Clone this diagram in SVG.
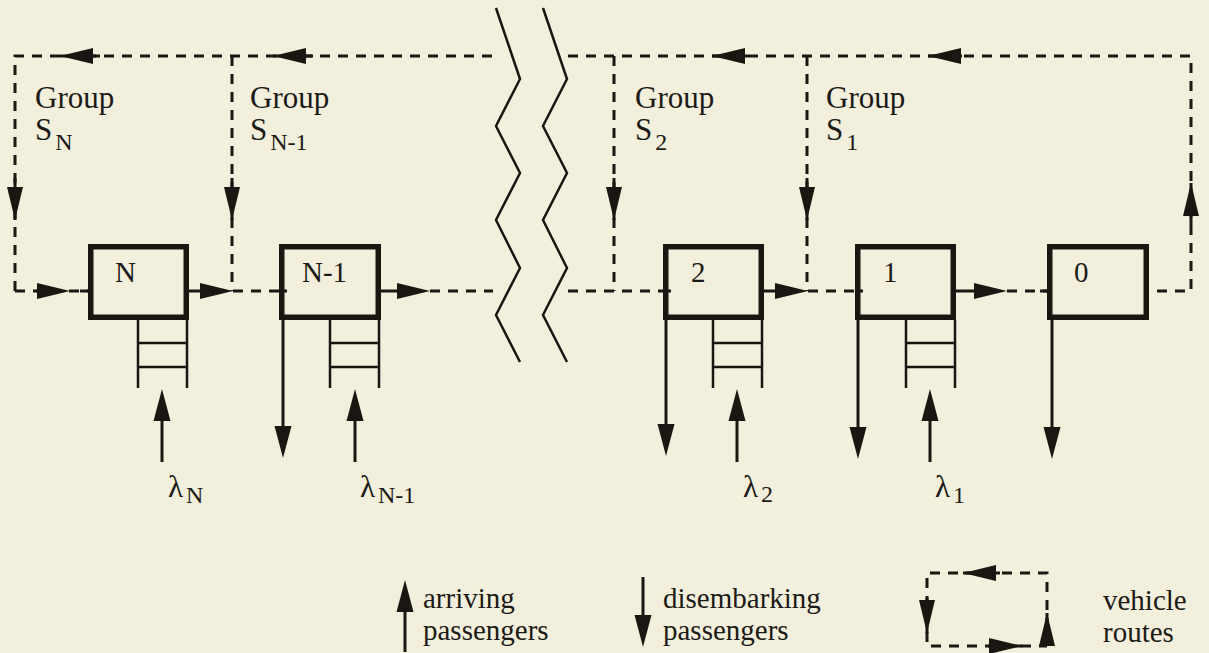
<svg xmlns="http://www.w3.org/2000/svg" xmlns:xlink="http://www.w3.org/1999/xlink" width="1209" height="653" viewBox="0 0 1209 653">
<style>
.bg{fill:#f2efdc}
.dash{fill:none;stroke:#1a1612;stroke-width:3;stroke-dasharray:10 8}
.solid{fill:none;stroke:#1a1612;stroke-width:3}
.thin{fill:none;stroke:#1a1612;stroke-width:2.5}
.box{fill:none;stroke:#1a1612;stroke-width:5.5}
.head{fill:#1a1612}
.t{font-family:"Liberation Serif","Times New Roman",serif;fill:#1c1a16;font-size:31px}
.lbl{font-family:"Liberation Serif","Times New Roman",serif;fill:#1c1a16;font-size:29px}
.sub{font-size:24px}
</style>
<defs>
<path id="ah" d="M0,0 L-33,-8 L-33,8 Z"/>
<path id="ahL" d="M0,0 L-32,-8.5 L-32,8.5 Z"/>
<g id="queue">
<path class="thin" d="M0,0 V68 M49,0 V68 M0,23 H49 M0,47 H49"/>
</g>
</defs>
<rect class="bg" x="0" y="0" width="1209" height="653"/>

<g id="connectors">
<path class="dash" d="M15,291 V56 H495"/>
<path class="dash" d="M568,56 H1191 V291 H1149"/>
<path class="dash" d="M232,56 V291 M614,56 V291 M807,56 V291"/>
<path class="dash" d="M15,291 H88 M233,291 H279 M430,291 H493 M568,291 H663 M808,291 H855 M1007,291 H1047"/>
<path class="solid" d="M189,291 H210 M381,291 H405 M764,291 H785 M956,291 H984 M36,291 H50 M80,291 H88 M279,291 H287 M663,291 H671 M855,291 H863 M1040,291 H1050"/>
<path class="solid" d="M60,56 H100 M273,56 H313 M712,56 H748 M928,56 H962 M15,178 V220 M232,178 V220 M614,178 V220 M807,178 V220 M1191,183 V225"/>
<g class="head">
<use xlink:href="#ah" transform="translate(70,291)"/>
<use xlink:href="#ah" transform="translate(233,291)"/>
<use xlink:href="#ah" transform="translate(430,291)"/>
<use xlink:href="#ah" transform="translate(808,291)"/>
<use xlink:href="#ah" transform="translate(1007,291)"/>
<use xlink:href="#ah" transform="translate(60,56) rotate(180)"/>
<use xlink:href="#ah" transform="translate(273,56) rotate(180)"/>
<use xlink:href="#ah" transform="translate(712,56) rotate(180)"/>
<use xlink:href="#ah" transform="translate(928,56) rotate(180)"/>
<use xlink:href="#ah" transform="translate(15,220) rotate(90)"/>
<use xlink:href="#ah" transform="translate(232,220) rotate(90)"/>
<use xlink:href="#ah" transform="translate(614,220) rotate(90)"/>
<use xlink:href="#ah" transform="translate(807,220) rotate(90)"/>
<use xlink:href="#ah" transform="translate(1191,183) rotate(-90)"/>
</g>
</g>

<g id="break">
<polyline class="thin" points="496,8 520,79 496,126 520,173 496,220 520,268 496,315 520,362"/>
<polyline class="thin" points="543,8 567,79 543,126 567,173 543,220 567,268 543,315 567,362"/>
</g>

<g id="group-labels">
<text class="t" x="35" y="108">Group</text>
<text class="t" x="35" y="140">S<tspan class="sub" dx="3" dy="10">N</tspan></text>
<text class="t" x="250" y="108">Group</text>
<text class="t" x="250" y="140">S<tspan class="sub" dx="3" dy="10">N-1</tspan></text>
<text class="t" x="635" y="108">Group</text>
<text class="t" x="635" y="140">S<tspan class="sub" dx="3" dy="10">2</tspan></text>
<text class="t" x="826" y="108">Group</text>
<text class="t" x="826" y="140">S<tspan class="sub" dx="3" dy="10">1</tspan></text>
</g>

<g id="node-N">
<rect class="box" x="90.75" y="246.75" width="95.5" height="70.5"/>
<text class="lbl" x="115" y="282">N</text>
<use xlink:href="#queue" x="138" y="320"/>
<path class="solid" d="M162,418 V462"/>
<use class="head" xlink:href="#ahL" transform="translate(162,389) rotate(-90)"/>
<text class="t" x="168" y="497">λ<tspan class="sub" dx="3" dy="6">N</tspan></text>
</g>

<g id="node-N-1">
<rect class="box" x="281.75" y="246.75" width="96.5" height="70.5"/>
<text class="lbl" x="302" y="282">N-1</text>
<use xlink:href="#queue" x="330" y="320"/>
<path class="solid" d="M283,320 V430"/>
<use class="head" xlink:href="#ahL" transform="translate(283,458) rotate(90)"/>
<path class="solid" d="M355,418 V462"/>
<use class="head" xlink:href="#ahL" transform="translate(355,389) rotate(-90)"/>
<text class="t" x="360" y="497">λ<tspan class="sub" dx="3" dy="6">N-1</tspan></text>
</g>

<g id="node-2">
<rect class="box" x="665.75" y="246.75" width="95.5" height="70.5"/>
<text class="lbl" x="691" y="282">2</text>
<use xlink:href="#queue" x="713" y="320"/>
<path class="solid" d="M666,320 V430"/>
<use class="head" xlink:href="#ahL" transform="translate(666,456) rotate(90)"/>
<path class="solid" d="M737,418 V462"/>
<use class="head" xlink:href="#ahL" transform="translate(737,389) rotate(-90)"/>
<text class="t" x="743" y="497">λ<tspan class="sub" dx="3" dy="5">2</tspan></text>
</g>

<g id="node-1">
<rect class="box" x="857.75" y="246.75" width="95.5" height="70.5"/>
<text class="lbl" x="883" y="282">1</text>
<use xlink:href="#queue" x="906" y="320"/>
<path class="solid" d="M858,320 V430"/>
<use class="head" xlink:href="#ahL" transform="translate(858,459) rotate(90)"/>
<path class="solid" d="M930,418 V462"/>
<use class="head" xlink:href="#ahL" transform="translate(930,389) rotate(-90)"/>
<text class="t" x="935" y="497">λ<tspan class="sub" dx="3" dy="6">1</tspan></text>
</g>

<g id="node-0">
<rect class="box" x="1049.75" y="246.75" width="96.5" height="70.5"/>
<text class="lbl" x="1074" y="282">0</text>
<path class="solid" d="M1052,320 V430"/>
<use class="head" xlink:href="#ahL" transform="translate(1052,459) rotate(90)"/>
</g>

<g id="legend">
<path class="solid" d="M405,608 V652"/>
<use class="head" xlink:href="#ahL" transform="translate(405,580) rotate(-90)"/>
<text class="lbl" x="423" y="608">arriving</text>
<text class="lbl" x="423" y="640">passengers</text>
<path class="solid" d="M643,577 V620"/>
<use class="head" xlink:href="#ahL" transform="translate(643,647) rotate(90)"/>
<text class="lbl" x="663" y="608">disembarking</text>
<text class="lbl" x="663" y="640">passengers</text>
<path class="dash" d="M1047,646 V573 H927 V646 H1047"/>
<path class="solid" d="M963,573 H1000 M927,598 V633 M1047,613 V642 M988,646 H1022"/>
<g class="head">
<use xlink:href="#ah" transform="translate(963,573) rotate(180)"/>
<use xlink:href="#ah" transform="translate(927,633) rotate(90)"/>
<use xlink:href="#ah" transform="translate(1047,613) rotate(-90)"/>
<use xlink:href="#ah" transform="translate(1022,646)"/>
</g>
<text class="lbl" x="1103" y="610">vehicle</text>
<text class="lbl" x="1103" y="642">routes</text>
</g>
</svg>
